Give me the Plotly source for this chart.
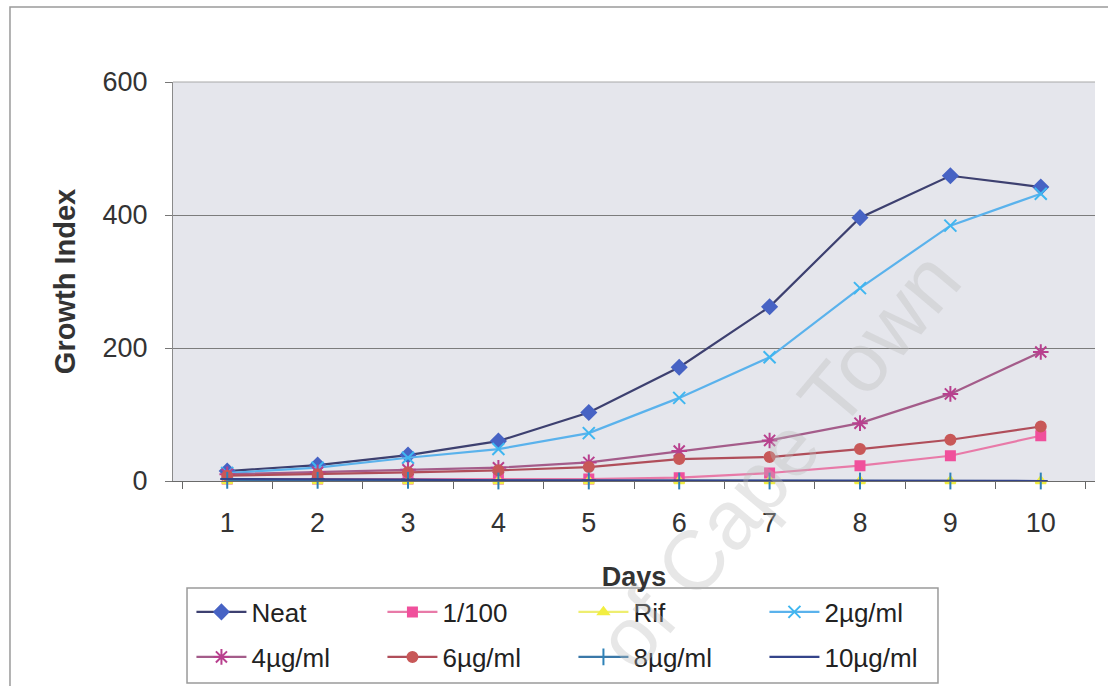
import plotly.graph_objects as go

# Day labels (category axis)
days = ["1", "2", "3", "4", "5", "6", "7", "8", "9", "10"]

# Growth index per treatment
neat = [15, 24, 39, 60, 103, 171, 262, 396, 459, 442]
dil_1_100 = [3, 3, 3, 3, 3, 5, 12, 23, 38, 68]
rif = [0, 0, 0, 0, 0, 0, 0, 0, 0, 0]
ug2 = [12, 20, 35, 48, 72, 125, 186, 290, 384, 432]
ug4 = [10, 13, 17, 20, 28, 45, 61, 87, 131, 194]
ug6 = [8, 10, 13, 16, 21, 33, 36, 48, 62, 82]
ug8 = [1, 1, 1, 0, 0, 0, 0, 0, 0, 0]
ug10 = [3, 3, 2, 1, 1, 0, 0, 0, 0, 0]

y_ticks = [0, 200, 400, 600]

FONT = "Liberation Sans, Arial, sans-serif"

series = [
    # name, values, line colour, marker colour, symbol, size, legend
    ("Neat", neat, "#3d4070", "#4763c4", "diamond", 11, "legend"),
    ("1/100", dil_1_100, "#e87aa8", "#f0509c", "square", 9, "legend"),
    ("Rif", rif, "#eeee70", "#f2ee40", "triangle-up", 9, "legend"),
    ("2µg/ml", ug2, "#5ab2ec", "#3fb6f0", "x-thin-open", 12, "legend"),
    ("4µg/ml", ug4, "#a45c8a", "#b8408e", "asterisk-open", 13, "legend2"),
    ("6µg/ml", ug6, "#b04e5a", "#c85858", "circle", 10, "legend2"),
    ("8µg/ml", ug8, "#3a78a8", "#2e82b8", "line-ns-open", 12, "legend2"),
    ("10µg/ml", ug10, "#34448a", "#34448a", "line-ew-open", 10, "legend2"),
]

fig = go.Figure()
for name, vals, lc, mc, sym, size, leg in series:
    fig.add_trace(go.Scatter(
        x=days, y=vals, name=name, mode="lines+markers",
        line=dict(color=lc, width=2.2),
        marker=dict(color=mc, symbol=sym, size=size,
                    line=dict(color=mc, width=2)),
        legend=leg, cliponaxis=False,
    ))

legend_common = dict(
    orientation="h", xanchor="left", yanchor="middle",
    bgcolor="rgba(0,0,0,0)", borderwidth=0,
    font=dict(family=FONT, size=26, color="#222"),
    entrywidth=126, entrywidthmode="pixels",
    itemwidth=50, traceorder="normal",
)

fig.update_layout(
    width=1108, height=686,
    margin=dict(l=173, r=13, t=82, b=205, autoexpand=False),
    paper_bgcolor="white",
    plot_bgcolor="#e5e6ec",
    font=dict(family=FONT, color="#333"),
    showlegend=True,
    legend=dict(x=0.02, y=(481 - 612) / 399, **legend_common),
    legend2=dict(x=0.02, y=(481 - 657) / 399, **legend_common),
    xaxis=dict(
        type="category", tickson="boundaries",
        ticks="outside", ticklen=7, tickcolor="#666",
        showline=True, linecolor="#6a6a6a", linewidth=1,
        showgrid=False, zeroline=False,
        tickfont=dict(family=FONT, size=27, color="#333"),
        ticklabelstandoff=18,
        title=dict(text="<b>Days</b>", standoff=29,
                   font=dict(family=FONT, size=27, color="#333")),
    ),
    yaxis=dict(
        range=[0, 600], tickvals=y_ticks,
        ticks="outside", ticklen=7, tickcolor="#777",
        showline=True, linecolor="#8a8a8a", linewidth=1,
        showgrid=True, gridcolor="#7c7c7c", gridwidth=1,
        zeroline=False,
        tickfont=dict(family=FONT, size=27, color="#333"),
        ticklabelstandoff=12,
        title=dict(text="<b>Growth Index</b>", standoff=18,
                   font=dict(family=FONT, size=29, color="#333")),
    ),
    shapes=[
        # outer chart frame
        dict(type="rect", xref="paper", yref="paper",
             x0=-0.1768, x1=1.05, y0=-0.6, y1=1.188,
             line=dict(color="#9a9a9a", width=1.5), layer="below"),
        # top edge of plot area
        dict(type="line", xref="paper", yref="paper",
             x0=0, x1=1, y0=1, y1=1,
             line=dict(color="#a8a8a8", width=1)),
        # legend box
        dict(type="rect", xref="paper", yref="paper",
             x0=0.0152, x1=0.8297, y0=-0.506, y1=-0.268,
             line=dict(color="#9a9a9a", width=1.5)),
    ],
    annotations=[
        # diagonal watermark
        dict(text="of Cape Town", xref="paper", yref="paper",
             x=(778 - 173) / 922, y=(481 - 460) / 399,
             xanchor="center", yanchor="middle", textangle=-50,
             showarrow=False,
             font=dict(family=FONT, size=84, color="rgba(185,185,185,0.35)")),
    ],
)

fig.write_html("out.html")
